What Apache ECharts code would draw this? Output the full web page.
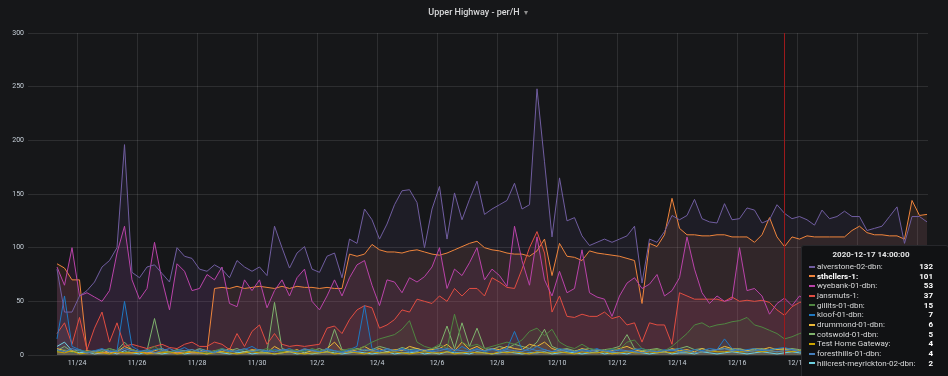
<!DOCTYPE html>
<html>
<head>
<meta charset="utf-8">
<title>Upper Highway - per/H</title>
<script src="https://cdn.jsdelivr.net/npm/echarts@6/dist/echarts.min.js"></script>
<style>
  html, body { margin: 0; padding: 0; background: #161719; overflow: hidden; }
  #chart { width: 948px; height: 376px; }
</style>
</head>
<body>
<div id="chart"></div>
<script>
// one sample every 6h, first one 2020-11-23 08:00 (hours counted from 2020-11-22 00:00 UTC)
const originUTC = Date.UTC(2020, 10, 22, 0, 0, 0);
const startHour = 32;
const stepHours = 6;
const hoverIndex = 97;            // 2020-12-17 14:00, where the crosshair sits
const hoverSeries = 'sthellers-1';
const axisMinHour = 8.8;          // last 30 days window
const axisMaxHour = 728.8;

const xTickLabels = ['11/24', '11/26', '11/28', '11/30', '12/2', '12/4', '12/6',
  '12/8', '12/10', '12/12', '12/14', '12/16', '12/18', '12/20', '12/22'];
const yTicks = [0, 50, 100, 150, 200, 250, 300];

const seriesNames = ['cotswold-01-dbn', 'drummond-01-dbn', 'hillcrest-meyrickton-02-dbn', 'sthellers-1',
  'jansmuts-1', 'kloof-01-dbn', 'wyebank-01-dbn', 'alverstone-02-dbn', 'gillits-01-dbn',
  'Test Home Gateway', 'foresthills-01-dbn'];
const seriesColors = ['#7EB26D', '#EAB839', '#6ED0E0', '#EF843C', '#E24D42', '#1F78C1',
  '#BA43A9', '#705DA0', '#508642', '#CCA300', '#447EBC'];

const cotswold = [4, 8, 3, 5, 2, 4, 3, 6, 4, 12,
  5, 3, 4, 34, 4, 3, 5, 4, 3, 6,
  4, 3, 5, 4, 6, 3, 4, 5, 3, 49,
  6, 4, 3, 5, 4, 6, 3, 24, 5, 4,
  6, 4, 5, 8, 6, 4, 7, 5, 6, 4,
  6, 8, 27, 6, 30, 8, 25, 6, 5, 8,
  6, 10, 8, 6, 12, 24, 8, 5, 6, 4,
  5, 6, 4, 5, 6, 8, 19, 6, 4, 5,
  6, 4, 5, 6, 8, 5, 6, 4, 5, 6,
  5, 6, 4, 5, 6, 4, 6, 5, 6, 5,
  4, 6, 5, 4, 6, 5, 4, 6, 5, 4,
  6, 5, 4, 6, 5, 4, 5];
const drummond = [6, 4, 3, 2, 4, 3, 5, 2, 3, 8,
  5, 3, 2, 4, 6, 3, 2, 4, 3, 5,
  2, 4, 3, 6, 2, 3, 5, 4, 2, 8,
  4, 3, 5, 2, 4, 3, 6, 12, 4, 3,
  5, 8, 4, 6, 3, 5, 4, 8, 6, 4,
  5, 6, 10, 4, 12, 5, 8, 4, 6, 5,
  8, 6, 5, 10, 8, 12, 6, 4, 5, 3,
  6, 4, 5, 3, 4, 6, 8, 5, 3, 4,
  5, 3, 6, 4, 5, 3, 6, 4, 5, 8,
  6, 5, 4, 6, 5, 7, 5, 6, 5, 4,
  5, 6, 4, 5, 6, 4, 5, 6, 4, 5,
  6, 4, 5, 6, 4, 5, 6];
const hillcrest = [8, 12, 4, 2, 3, 1, 2, 3, 1, 4,
  2, 1, 3, 2, 1, 2, 3, 1, 2, 2,
  1, 3, 2, 1, 2, 3, 1, 2, 2, 1,
  2, 3, 1, 2, 1, 2, 3, 2, 1, 2,
  3, 2, 1, 2, 3, 1, 2, 2, 3, 1,
  2, 1, 3, 2, 2, 1, 3, 2, 1, 2,
  3, 2, 1, 2, 2, 3, 1, 2, 3, 2,
  1, 2, 3, 1, 2, 2, 1, 3, 2, 1,
  2, 3, 1, 2, 2, 1, 3, 2, 1, 2,
  3, 2, 1, 2, 3, 2, 1, 2, 3, 2,
  1, 2, 3, 2, 1, 2, 2, 3, 1, 2,
  2, 1, 3, 2, 2, 1, 2];
const sthellers = [85, 81, 70, 70, 3, 2, 2, 3, 2, 2,
  2, 3, 2, 2, 3, 2, 2, 3, 2, 2,
  3, 62, 63, 62, 64, 62, 63, 64, 63, 62,
  64, 62, 64, 63, 63, 62, 63, 62, 62, 94,
  92, 94, 103, 98, 96, 96, 95, 97, 98, 96,
  94, 93, 95, 98, 101, 104, 106, 100, 98, 97,
  95, 94, 94, 92, 97, 108, 74, 104, 92, 91,
  88, 97, 95, 94, 93, 92, 90, 88, 48, 104,
  101, 112, 146, 118, 112, 112, 111, 111, 112, 112,
  110, 110, 110, 105, 112, 128, 110, 101, 110, 108,
  111, 110, 110, 110, 110, 110, 116, 120, 114, 112,
  112, 111, 111, 108, 144, 130, 131];
const jansmuts = [20, 30, 10, 35, 5, 25, 40, 12, 30, 8,
  10, 8, 6, 8, 10, 7, 6, 10, 12, 8,
  8, 12, 10, 5, 20, 8, 22, 28, 10, 20,
  10, 8, 9, 8, 9, 10, 25, 27, 20, 33,
  42, 46, 44, 25, 28, 33, 42, 40, 52, 50,
  48, 55, 50, 62, 55, 62, 62, 55, 72, 68,
  63, 62, 80, 100, 115, 95, 40, 55, 36, 35,
  38, 36, 36, 40, 34, 36, 28, 30, 12, 30,
  28, 28, 10, 58, 55, 52, 52, 52, 52, 50,
  54, 50, 51, 50, 51, 49, 42, 37, 45, 49,
  50, 48, 52, 50, 47, 50, 52, 49, 51, 50,
  48, 52, 50, 46, 50, 52, 50];
const kloof = [15, 55, 8, 5, 3, 4, 6, 3, 4, 50,
  8, 4, 3, 5, 6, 3, 4, 7, 3, 5,
  4, 3, 6, 4, 3, 5, 8, 4, 3, 5,
  4, 6, 3, 4, 5, 3, 6, 4, 3, 5,
  8, 46, 6, 4, 5, 3, 6, 4, 5, 3,
  4, 6, 5, 3, 8, 4, 6, 3, 5, 4,
  6, 22, 5, 4, 8, 5, 3, 6, 4, 3,
  5, 4, 6, 3, 5, 4, 3, 5, 6, 4,
  3, 5, 4, 6, 3, 5, 4, 6, 5, 15,
  6, 4, 5, 6, 4, 5, 6, 7, 5, 4,
  6, 5, 4, 6, 5, 3, 5, 6, 4, 5,
  6, 4, 5, 3, 6, 5, 4];
const wyebank = [82, 65, 100, 55, 58, 54, 50, 60, 95, 120,
  70, 52, 62, 105, 70, 42, 85, 78, 60, 62,
  75, 70, 82, 48, 45, 70, 60, 70, 44, 60,
  70, 55, 72, 80, 50, 42, 55, 70, 55, 72,
  84, 88, 65, 46, 70, 68, 58, 72, 68, 73,
  82, 100, 62, 80, 74, 86, 100, 70, 80, 74,
  64, 120, 88, 65, 110, 70, 55, 78, 58, 62,
  98, 58, 54, 52, 36, 55, 67, 72, 62, 66,
  75, 55, 60, 72, 110, 80, 58, 48, 55, 50,
  52, 100, 60, 62, 55, 38, 48, 53, 46, 55,
  50, 55, 48, 60, 52, 58, 50, 62, 55, 48,
  60, 52, 58, 70, 90, 60, 55];
const alverstone = [80, 40, 40, 55, 60, 68, 82, 88, 100, 196,
  77, 72, 82, 84, 76, 68, 100, 92, 90, 80,
  78, 84, 80, 72, 88, 82, 78, 82, 74, 120,
  100, 81, 95, 101, 80, 77, 92, 95, 72, 108,
  104, 136, 126, 108, 122, 140, 153, 154, 142, 100,
  136, 157, 108, 151, 126, 145, 162, 131, 136, 140,
  144, 160, 136, 140, 248, 180, 110, 165, 125, 128,
  111, 102, 105, 108, 105, 108, 111, 120, 67, 108,
  105, 115, 130, 126, 130, 145, 127, 124, 123, 141,
  126, 127, 137, 135, 123, 126, 140, 132, 127, 129,
  126, 121, 135, 127, 129, 134, 129, 129, 116, 118,
  120, 129, 138, 104, 129, 129, 124];
const gillits = [3, 5, 2, 4, 3, 2, 4, 6, 3, 2,
  5, 3, 4, 8, 3, 2, 4, 3, 5, 3,
  2, 4, 6, 3, 4, 5, 3, 4, 6, 4,
  3, 5, 4, 3, 6, 4, 5, 3, 4, 6,
  5, 8, 12, 15, 17, 19, 24, 32, 12, 8,
  6, 10, 6, 38, 12, 8, 10, 6, 8, 10,
  12, 10, 14, 22, 25, 18, 24, 12, 8, 6,
  10, 6, 5, 4, 6, 5, 12, 14, 6, 4,
  5, 4, 8, 14, 20, 28, 30, 26, 28, 29,
  31, 32, 35, 28, 26, 23, 20, 15, 17, 20,
  22, 25, 24, 20, 18, 22, 25, 21, 19, 23,
  22, 20, 18, 21, 24, 20, 22];
const testHome = [3, 2, 4, 1, 2, 3, 2, 1, 3, 2,
  2, 3, 1, 2, 2, 3, 1, 2, 3, 2,
  1, 2, 3, 2, 1, 2, 3, 2, 2, 1,
  2, 3, 2, 1, 2, 2, 3, 1, 2, 3,
  2, 1, 3, 2, 2, 3, 2, 1, 2, 3,
  2, 2, 3, 1, 2, 3, 2, 2, 1, 3,
  2, 3, 2, 1, 3, 2, 2, 3, 2, 1,
  3, 2, 2, 3, 1, 2, 3, 2, 2, 3,
  2, 3, 2, 4, 3, 2, 3, 4, 3, 3,
  4, 3, 3, 4, 3, 4, 3, 4, 3, 4,
  3, 4, 3, 3, 4, 3, 4, 3, 3, 4,
  3, 4, 3, 4, 3, 3, 4];
const foresthills = [5, 3, 6, 4, 2, 3, 5, 4, 3, 6,
  4, 3, 5, 2, 4, 6, 3, 4, 5, 3,
  4, 2, 5, 3, 4, 6, 3, 5, 4, 3,
  5, 4, 3, 6, 4, 3, 5, 4, 2, 4,
  3, 5, 4, 3, 6, 4, 5, 3, 4, 5,
  3, 4, 6, 5, 4, 3, 5, 4, 6, 3,
  5, 4, 3, 6, 4, 5, 3, 4, 5, 3,
  4, 3, 5, 4, 3, 5, 4, 3, 2, 4,
  3, 4, 5, 3, 4, 2, 3, 4, 5, 6,
  4, 5, 3, 4, 5, 4, 3, 4, 5, 3,
  4, 5, 3, 4, 6, 4, 3, 5, 4, 3,
  4, 5, 3, 4, 5, 4, 3];

const seriesValues = [cotswold, drummond, hillcrest, sthellers, jansmuts, kloof,
  wyebank, alverstone, gillits, testHome, foresthills];

function pad(n) { return (n < 10 ? '0' : '') + n; }
function fmtTime(h) {
  const d = new Date(originUTC + h * 3600000);
  return d.getUTCFullYear() + '-' + pad(d.getUTCMonth() + 1) + '-' + pad(d.getUTCDate()) + ' ' +
    pad(d.getUTCHours()) + ':' + pad(d.getUTCMinutes()) + ':' + pad(d.getUTCSeconds());
}

// tick every 2 days at midnight, first one 11/24
const xTickHours = xTickLabels.map((l, i) => 48 + 48 * i);

const chart = echarts.init(document.getElementById('chart'));

const series = seriesNames.map((name, i) => ({
  name: name,
  type: 'line',
  symbol: 'none',
  lineStyle: { width: 1, color: seriesColors[i] },
  itemStyle: { color: seriesColors[i] },
  areaStyle: { color: seriesColors[i], opacity: 0.1 },
  emphasis: { disabled: true },
  data: seriesValues[i].map((v, k) => [startHour + k * stepHours, v])
}));

const font = 'Roboto, "Helvetica Neue", Arial, sans-serif';

chart.setOption({
  backgroundColor: '#161719',
  animation: false,
  title: [
    {
      text: 'Upper Highway - per/H',
      left: 'center',
      top: 8,
      padding: 0,
      textStyle: { color: '#d8d9da', fontSize: 9, fontWeight: 500, fontFamily: font }
    },
    {
      text: '▾',
      left: 524,
      top: 9,
      padding: 0,
      textStyle: { color: '#8e8e8e', fontSize: 8, fontWeight: 'normal' }
    }
  ],
  grid: { left: 28, right: 20, top: 33, bottom: 21 },
  xAxis: {
    type: 'value',
    min: axisMinHour,
    max: axisMaxHour,
    axisLine: { show: false },
    axisTick: { show: false, customValues: xTickHours },
    axisLabel: {
      customValues: xTickHours,
      color: '#c7d0d9',
      fontSize: 7,
      fontFamily: font,
      margin: 5,
      formatter: v => xTickLabels[xTickHours.indexOf(v)]
    },
    splitLine: { show: true, lineStyle: { color: 'rgba(255,255,255,0.1)', width: 1 } }
  },
  yAxis: {
    type: 'value',
    min: yTicks[0],
    max: yTicks[yTicks.length - 1],
    interval: 50,
    axisLine: { show: false },
    axisTick: { show: false },
    axisLabel: { color: '#c7d0d9', fontSize: 7, fontFamily: font, margin: 4 },
    splitLine: { lineStyle: { color: 'rgba(255,255,255,0.1)', width: 1 } }
  },
  tooltip: {
    trigger: 'axis',
    triggerOn: 'none',
    alwaysShowContent: true,
    transitionDuration: 0,
    backgroundColor: '#111214',
    borderColor: '#26272b',
    borderWidth: 1,
    padding: [4, 15, 14, 7],
    extraCssText: 'box-shadow:none;border-radius:3px;',
    textStyle: { color: '#d8d9da', fontSize: 8, fontFamily: font },
    position: () => [801, 245],
    axisPointer: {
      type: 'line',
      lineStyle: { color: '#9c1a1c', width: 1, type: 'solid' },
      label: { show: false }
    },
    formatter: function (params) {
      const rows = params.slice().sort((a, b) => b.value[1] - a.value[1]);
      let html = '<div style="width:124px;font-family:' + font.replace(/"/g, "'") + ';font-size:8px;">';
      html += '<div style="text-align:center;font-weight:bold;line-height:10px;height:10px;color:#e4e5e6;margin-bottom:2px;">' +
        fmtTime(params[0].value[0]) + '</div>';
      rows.forEach(p => {
        const bold = p.seriesName === hoverSeries ? 'font-weight:bold;color:#ffffff;' : '';
        html += '<div style="display:flex;align-items:center;height:9.67px;line-height:9.67px;">' +
          '<span style="display:inline-block;width:6px;height:2px;margin-right:2px;background:' + p.color + ';"></span>' +
          '<span style="flex:1;white-space:nowrap;' + bold + '">' + p.seriesName + ':</span>' +
          '<span style="font-weight:bold;color:#ffffff;">' + p.value[1] + '</span></div>';
      });
      return html + '</div>';
    }
  },
  series: series
});

chart.dispatchAction({ type: 'showTip', seriesIndex: 7, dataIndex: hoverIndex });
</script>
</body>
</html>
